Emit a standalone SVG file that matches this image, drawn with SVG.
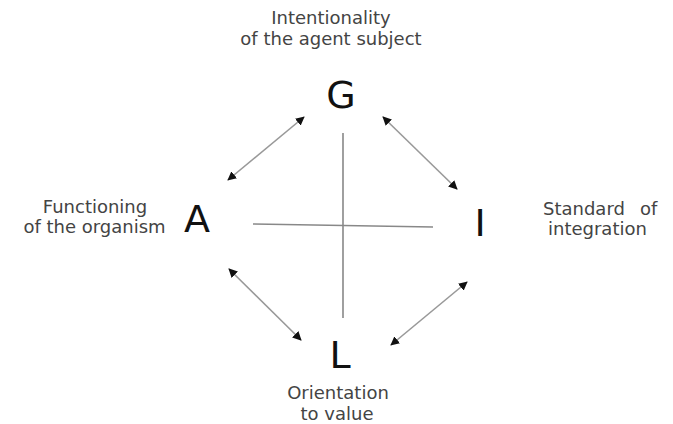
<svg xmlns="http://www.w3.org/2000/svg" width="673" height="424" viewBox="0 0 673 424">
<style>
.lbl{font-family:"DejaVu Sans",sans-serif;font-size:18px;fill:#444}
.big{font-family:"DejaVu Sans",sans-serif;font-size:38px;fill:#111;text-anchor:middle}
.ax{stroke:#888;stroke-width:1.6;fill:none}
.ar{stroke:#999;stroke-width:1.6;fill:none;marker-start:url(#h);marker-end:url(#h)}
</style>
<defs>
<marker id="h" viewBox="0 0 10 10" refX="9" refY="5" markerWidth="9" markerHeight="9" markerUnits="userSpaceOnUse" orient="auto-start-reverse">
<path d="M0,0 L10,5 L0,10 Z" fill="#111"/>
</marker>
<clipPath id="cr"><rect x="0" y="0" width="659" height="424"/></clipPath>
</defs>
<rect width="673" height="424" fill="#fff"/>
<g id="connectors">
<line class="ax" x1="343" y1="133" x2="343" y2="318"/>
<line class="ax" x1="253" y1="224" x2="433" y2="227"/>
<line class="ar" x1="228" y1="180" x2="304" y2="117"/>
<line class="ar" x1="383" y1="117" x2="457" y2="189"/>
<line class="ar" x1="229" y1="269" x2="301" y2="340"/>
<line class="ar" x1="467" y1="282" x2="391" y2="345"/>
</g>
<g id="G">
<text class="big" x="341" y="108">G</text>
<text class="lbl" x="331" y="24" text-anchor="middle">Intentionality</text>
<text class="lbl" x="331" y="45" text-anchor="middle">of the agent subject</text>
</g>
<g id="A">
<text class="big" x="197" y="232">A</text>
<text class="lbl" x="95" y="213" text-anchor="middle">Functioning</text>
<text class="lbl" x="94.5" y="233" text-anchor="middle">of the organism</text>
</g>
<g id="I">
<text class="big" x="480" y="236">I</text>
<g clip-path="url(#cr)">
<text class="lbl" x="543" y="215">Standard <tspan x="640">of</tspan></text>
</g>
<text class="lbl" x="548" y="235">integration</text>
</g>
<g id="L">
<text class="big" x="340" y="368">L</text>
<text class="lbl" x="338" y="399" text-anchor="middle">Orientation</text>
<text class="lbl" x="337" y="420" text-anchor="middle">to value</text>
</g>
</svg>
